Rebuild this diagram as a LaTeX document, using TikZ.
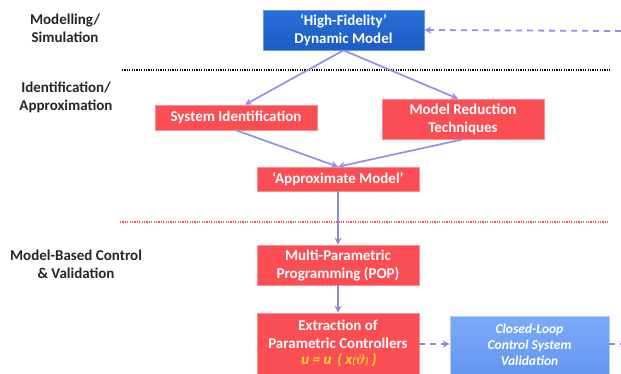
\documentclass[tikz,border=0pt]{standalone}
\usepackage{amsmath}
\usepackage{fontspec}
\setmainfont{Carlito}
\usetikzlibrary{arrows.meta,shadows}
\definecolor{boxred}{RGB}{250,78,84}
\definecolor{boxredline}{RGB}{255,140,140}
\definecolor{hfblue}{RGB}{28,92,196}
\definecolor{hfbluetop}{RGB}{40,110,215}
\definecolor{clblue}{RGB}{100,150,240}
\definecolor{clbluetop}{RGB}{125,170,248}
\definecolor{arrowc}{RGB}{145,145,232}
\definecolor{vertc}{RGB}{140,140,200}
\definecolor{formula}{RGB}{255,220,40}
\begin{document}
\begin{tikzpicture}[x=1pt,y=-1pt,
  mainfont/.style={font=\bfseries\fontsize{15}{18}\selectfont},
  redbox/.style={draw=boxredline,line width=0.6pt,fill=boxred,text=white,mainfont,align=center,inner sep=0pt,drop shadow={shadow xshift=1pt,shadow yshift=-1.2pt,opacity=0.25}},
  hfbox/.style={draw=hfbluetop!70!white,line width=0.6pt,top color=hfbluetop,bottom color=hfblue,text=white,mainfont,align=center,inner sep=0pt,drop shadow={shadow xshift=1pt,shadow yshift=-1.2pt,opacity=0.25}},
  clbox/.style={draw=clbluetop!60!white,line width=0.6pt,top color=clbluetop,bottom color=clblue,text=white,font=\bfseries\itshape\fontsize{13.5}{16}\selectfont,align=center,inner sep=0pt,drop shadow={shadow xshift=1pt,shadow yshift=-1.2pt,opacity=0.25}},
  sidelabel/.style={mainfont,align=center,text=black!85},
  solidarrow/.style={draw=arrowc,line width=1.7pt,-{Stealth[length=7pt,width=7pt]}},
  vertarrow/.style={draw=vertc,line width=1.7pt,-{Stealth[length=7pt,width=7pt]}},
  dasharrow/.style={draw=arrowc,line width=1.8pt,dash pattern=on 6pt off 5pt,-{Stealth[length=7pt,width=7pt]}},
  dashgray/.style={draw=vertc,line width=1.8pt,dash pattern=on 6pt off 5pt,-{Stealth[length=7pt,width=7pt]}}
]
\useasboundingbox (0,0) rectangle (621,373);
\clip (0,0) rectangle (621,373);
\fill[white] (0,0) rectangle (621,373);

% side labels
\node[sidelabel] (lab1) at (65,28) {Modelling/\\Simulation};
\node[sidelabel] (lab2) at (66,97) {Identification/\\Approximation};
\node[sidelabel] (lab3) at (76,264) {Model-Based Control\\\& Validation};

% separators
\coordinate (s1a) at (122,70);
\coordinate (s1b) at (610,70);
\draw[black,line width=1.1pt,dash pattern=on 1.1pt off 1.3pt] (s1a) -- (s1b);
\coordinate (s2a) at (120,222);
\coordinate (s2b) at (608,222);
\draw[boxred,line width=1.1pt,dash pattern=on 1.1pt off 1.3pt] (s2a) -- (s2b);

% boxes
\node[hfbox,minimum width=161pt,minimum height=40pt] (hf) at (343.5,30) {`High-Fidelity'\\Dynamic Model};
\node[redbox,minimum width=162pt,minimum height=25pt] (sid) at (236,117.5) {System Identification};
\node[redbox,minimum width=162pt,minimum height=40pt] (mrt) at (463,119) {Model Reduction\\Techniques};
\node[redbox,minimum width=162pt,minimum height=24pt] (apx) at (338,179) {`Approximate Model'};
\node[redbox,minimum width=162pt,minimum height=40pt] (pop) at (338,265) {Multi-Parametric\\Programming (POP)};
\node[redbox,minimum width=162pt,minimum height=66pt] (ext) at (338,346) {};
\node[mainfont,text=white,align=center,inner sep=0pt] (extt) at (338,334) {Extraction of\\Parametric Controllers};
\node[font=\bfseries\itshape\fontsize{15}{18}\selectfont,text=formula,inner sep=0pt] (form) at (339,360) {u = u \,( x{\fontsize{10}{12}\selectfont(}$\boldsymbol{\vartheta}${\fontsize{10}{12}\selectfont)} )};
\node[clbox,minimum width=159pt,minimum height=58pt] (cl) at (529.5,345) {Closed-Loop\\Control System\\Validation};

% connectors
\coordinate (ein) at (621,31);
\draw[dasharrow] (ein) -- (hf.east);
\draw[solidarrow] (hf.south) -- (sid.north -| 245,0);
\draw[solidarrow] (hf.south) -- (mrt.north -| 458,0);
\draw[solidarrow] (sid.south) -- (apx.north);
\draw[solidarrow] (mrt.south) -- (apx.north);
\draw[vertarrow] (apx.south) -- (pop.north);
\draw[vertarrow] (pop.south) -- (ext.north);
\draw[dashgray] (ext.east |- 0,344) -- (cl.west |- 0,344);
\coordinate (eout) at (622,344);
\draw[dashgray,-] (cl.east |- 0,344) -- (eout);
\end{tikzpicture}
\end{document}
